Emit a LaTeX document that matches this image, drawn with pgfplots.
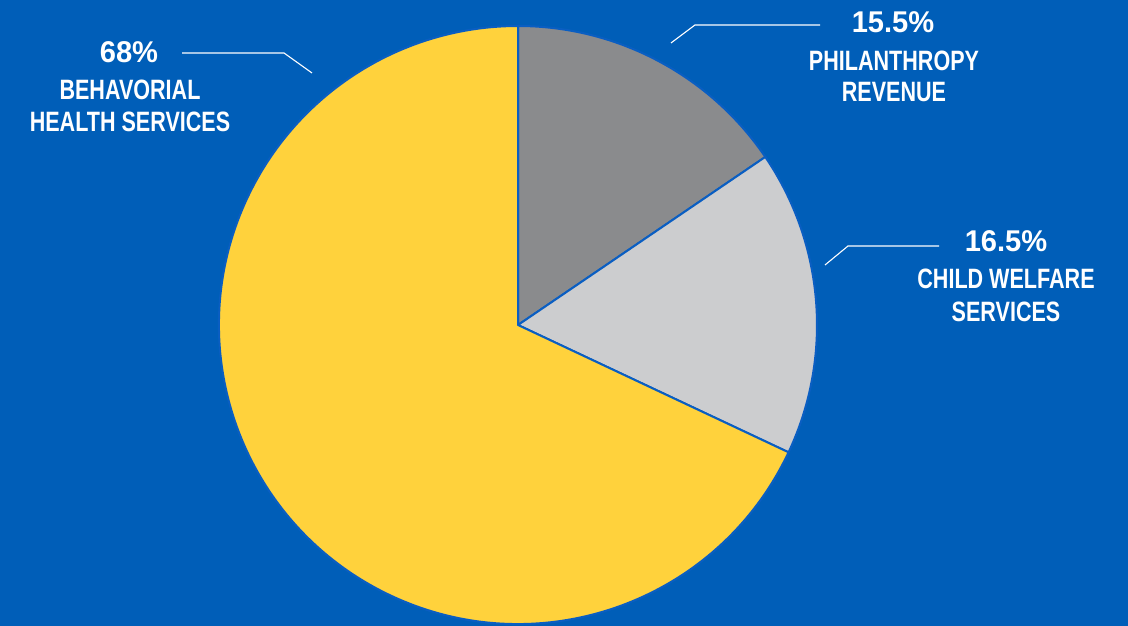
\documentclass[border=0pt]{standalone}
\usepackage{fontspec}
\setmainfont{Liberation Sans}
\newfontfamily\lblfont[FakeStretch=0.77]{Liberation Sans}
\newfontfamily\pctfont[FakeStretch=0.97]{Liberation Sans}
\usepackage{pgfplots}
\pgfplotsset{compat=1.18}
\definecolor{bgblue}{HTML}{005EB8}
\definecolor{edgeblue}{HTML}{0A5EC2}
\definecolor{pyellow}{HTML}{FFD23C}
\definecolor{pdark}{HTML}{8A8B8D}
\definecolor{plight}{HTML}{CCCDCF}
% slice values (percent)
\def\vPhil{15.5}
\def\vChild{16.5}
\def\vBeh{68}
\begin{document}
\begin{tikzpicture}
\pgfmathsetmacro{\aA}{90}
\pgfmathsetmacro{\aB}{90-\vPhil*3.6}
\pgfmathsetmacro{\aC}{\aB-\vChild*3.6}
\pgfmathsetmacro{\aD}{\aC-\vBeh*3.6}
\begin{axis}[
  name=ax,
  scale only axis, width=1128pt, height=626pt,
  xmin=0, xmax=1128, ymin=0, ymax=626,
  hide axis, clip=false,
]
\fill[bgblue] (axis cs:0,0) rectangle (axis cs:1128,626);
% pie centre (518,301) radius 300
\filldraw[fill=pdark, draw=edgeblue, line width=2pt, line join=round]
  (axis cs:518,301) -- ++(\aA:299pt) arc[start angle=\aA, end angle=\aB, radius=299pt] -- cycle;
\filldraw[fill=plight, draw=edgeblue, line width=2pt, line join=round]
  (axis cs:518,301) -- ++(\aB:299pt) arc[start angle=\aB, end angle=\aC, radius=299pt] -- cycle;
\filldraw[fill=pyellow, draw=edgeblue, line width=2pt, line join=round]
  (axis cs:518,301) -- ++(\aC:299pt) arc[start angle=\aC, end angle=\aD, radius=299pt] -- cycle;
% leader lines
\draw[white, line width=1.1pt] (axis cs:182,573) -- (axis cs:284,573) -- (axis cs:312,553);
\draw[white, line width=1.1pt] (axis cs:671,583) -- (axis cs:695,601) -- (axis cs:820,601);
\draw[white, line width=1.1pt] (axis cs:825,361) -- (axis cs:848,380) -- (axis cs:939,380);
% labels
\node[anchor=base, text=white, inner sep=0pt, font=\pctfont\bfseries\fontsize{30}{30}\selectfont] at (axis cs:129,563) {68\%};
\node[anchor=base, text=white, inner sep=0pt, font=\lblfont\bfseries\fontsize{28}{28}\selectfont] at (axis cs:130,526) {BEHAVORIAL};
\node[anchor=base, text=white, inner sep=0pt, font=\lblfont\bfseries\fontsize{28}{28}\selectfont] at (axis cs:130,494) {HEALTH SERVICES};
\node[anchor=base, text=white, inner sep=0pt, font=\pctfont\bfseries\fontsize{30}{30}\selectfont] at (axis cs:893,593) {15.5\%};
\node[anchor=base, text=white, inner sep=0pt, font=\lblfont\bfseries\fontsize{28}{28}\selectfont] at (axis cs:894,555) {PHILANTHROPY};
\node[anchor=base, text=white, inner sep=0pt, font=\lblfont\bfseries\fontsize{28}{28}\selectfont] at (axis cs:894,524) {REVENUE};
\node[anchor=base, text=white, inner sep=0pt, font=\pctfont\bfseries\fontsize{30}{30}\selectfont] at (axis cs:1006,374) {16.5\%};
\node[anchor=base, text=white, inner sep=0pt, font=\lblfont\bfseries\fontsize{28}{28}\selectfont] at (axis cs:1006,337) {CHILD WELFARE};
\node[anchor=base, text=white, inner sep=0pt, font=\lblfont\bfseries\fontsize{28}{28}\selectfont] at (axis cs:1006,304) {SERVICES};
\end{axis}
\pgfresetboundingbox
\path[use as bounding box] (ax.south west) rectangle (ax.north east);
\end{tikzpicture}
\end{document}
